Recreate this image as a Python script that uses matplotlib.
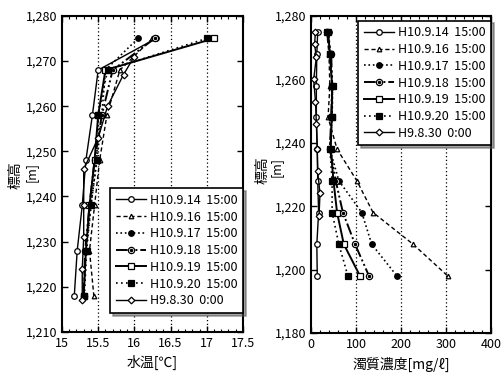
import matplotlib
matplotlib.use("Agg")
import matplotlib.pyplot as plt
from matplotlib.ticker import FuncFormatter, MultipleLocator
from matplotlib.legend_handler import HandlerTuple

plt.rcParams['font.family'] = ['Noto Sans CJK JP', 'DejaVu Sans']

labels = ["H10.9.14  15:00", "H10.9.16  15:00", "H10.9.17  15:00", "H10.9.18  15:00",
          "H10.9.19  15:00", "H10.9.20  15:00", "H9.8.30  0:00"]

# Water temperature (left)
elev_t = [1275, 1268, 1258, 1248, 1238, 1228, 1218]
t_0914 = [16.30, 15.50, 15.42, 15.33, 15.28, 15.21, 15.17]
t_0916 = [16.25, 15.80, 15.62, 15.52, 15.45, 15.38, 15.44]
t_0917 = [16.05, 15.60, 15.55, 15.48, 15.40, 15.33, 15.30]
t_0918 = [16.28, 15.70, 15.55, 15.45, 15.38, 15.32, 15.30]
t_0919 = [17.10, 15.60, 15.50, 15.45, 15.38, 15.33, 15.30]
t_0920 = [17.00, 15.63, 15.50, 15.48, 15.40, 15.34, 15.31]
elev_t_h9 = [1271, 1267, 1260, 1253, 1246, 1238, 1231, 1224, 1217]
t_h9 = [16.00, 15.85, 15.63, 15.50, 15.30, 15.30, 15.30, 15.28, 15.28]

# Turbidity (right)
elev_c = [1275, 1268, 1258, 1248, 1238, 1228, 1218, 1208, 1198]
c_0914 = [15, 13, 12, 12, 14, 15, 17, 13, 14]
c_0916 = [35, 40, 42, 38, 58, 102, 138, 227, 304]
c_0917 = [40, 42, 48, 47, 42, 62, 113, 135, 191]
c_0918 = [35, 45, 47, 45, 42, 55, 71, 98, 129]
c_0919 = [38, 42, 47, 46, 44, 50, 58, 73, 109]
c_0920 = [35, 42, 48, 47, 42, 47, 47, 62, 82]
elev_c_h9 = [1275, 1271, 1267, 1260, 1253, 1246, 1238, 1231, 1224, 1217]
c_h9 = [10, 8, 12, 6, 10, 12, 14, 15, 20, 18]

fig = plt.figure(figsize=(5.04, 3.78), dpi=100)
ax1 = fig.add_axes([0.123, 0.122, 0.359, 0.836])
ax2 = fig.add_axes([0.617, 0.119, 0.357, 0.839])

styles = [
    dict(ls='-', marker='o', mfc='white', ms=4.0, lw=1.0),
    dict(ls=(0, (3, 2)), marker='^', mfc='white', ms=3.3, lw=1.0),
    dict(ls=':', marker='o', mfc='black', ms=4.0, lw=1.2),
    dict(ls=(0, (6, 1.5, 1, 1.5, 1, 1.5)), marker='o', mfc='white', ms=4.5, lw=1.4),
    dict(ls='-', marker='s', mfc='white', ms=4.0, lw=1.4),
    dict(ls=(0, (1, 2)), marker='s', mfc='black', ms=4.0, lw=1.2),
    dict(ls='-', marker='D', mfc='white', ms=3.4, lw=1.0),
]

def draw(ax, xs_list, ys_list):
    handles = []
    for i, (xs, ys) in enumerate(zip(xs_list, ys_list)):
        st = styles[i]
        ln, = ax.plot(xs, ys, color='black', mec='black', mew=0.9, zorder=3, **st)
        if i == 3:
            dot, = ax.plot(xs, ys, ls='none', marker='o', ms=1.5, color='black', zorder=4)
            handles.append((ln, dot))
        else:
            handles.append(ln)
    return handles

h1 = draw(ax1, [t_0914, t_0916, t_0917, t_0918, t_0919, t_0920, t_h9],
          [elev_t, elev_t, elev_t, elev_t, elev_t, elev_t, elev_t_h9])
h2 = draw(ax2, [c_0914, c_0916, c_0917, c_0918, c_0919, c_0920, c_h9],
          [elev_c, elev_c, elev_c, elev_c, elev_c, elev_c, elev_c_h9])

comma = FuncFormatter(lambda v, p: f"{int(v):,}")

ax1.set_xlim(15, 17.5)
ax1.set_ylim(1210, 1280)
ax1.set_xticks([15, 15.5, 16, 16.5, 17, 17.5])
ax1.set_xticklabels(["15", "15.5", "16", "16.5", "17", "17.5"])
ax1.xaxis.set_minor_locator(MultipleLocator(0.1))
ax1.yaxis.set_major_locator(MultipleLocator(10))
ax1.yaxis.set_major_formatter(comma)
for x in [15.5, 16, 16.5, 17]:
    ax1.axvline(x, color='black', ls=(0, (1, 2)), lw=0.9, zorder=1)
ax1.set_xlabel("水温[℃]", fontsize=10)

ax2.set_xlim(0, 400)
ax2.set_ylim(1180, 1280)
ax2.set_xticks([0, 100, 200, 300, 400])
ax2.xaxis.set_minor_locator(MultipleLocator(20))
ax2.yaxis.set_major_locator(MultipleLocator(20))
ax2.yaxis.set_major_formatter(comma)
for x in [100, 200, 300]:
    ax2.axvline(x, color='black', ls=(0, (1, 2)), lw=0.9, zorder=1)
ax2.set_xlabel("濁質濃度[mg/ℓ]", fontsize=10)

# two-column vertical y labels
for ax, x1, x2, yc in ((ax1, -0.255, -0.17, 0.495), (ax2, -0.27, -0.195, 0.515)):
    ax.text(x1, yc, "標高", rotation=90, ha='center', va='center',
            fontsize=10, transform=ax.transAxes)
    ax.text(x2, yc + 0.01, "[m]", rotation=90, ha='center', va='center',
            fontsize=9, transform=ax.transAxes)

for ax in (ax1, ax2):
    ax.tick_params(which='both', direction='in', top=True, right=True, labelsize=9)
    ax.tick_params(which='major', length=4, width=1.0)
    ax.tick_params(which='minor', length=2, width=0.8)
    for s in ax.spines.values():
        s.set_linewidth(1.5)

leg_kw = dict(fontsize=9, frameon=True, fancybox=False, shadow=True,
              handlelength=2.4, handletextpad=0.3, labelspacing=0.3,
              borderpad=0.45, borderaxespad=0.0,
              handler_map={tuple: HandlerTuple(ndivide=1)})
l1 = ax1.legend(h1, labels, loc='lower right', bbox_to_anchor=(1.0, 0.06), **leg_kw)
l2 = ax2.legend(h2, labels, loc='upper right', bbox_to_anchor=(1.0, 0.985), **leg_kw)
for l in (l1, l2):
    l.get_frame().set_edgecolor('black')
    l.get_frame().set_linewidth(1.2)

fig.savefig("out.png", dpi=100)
